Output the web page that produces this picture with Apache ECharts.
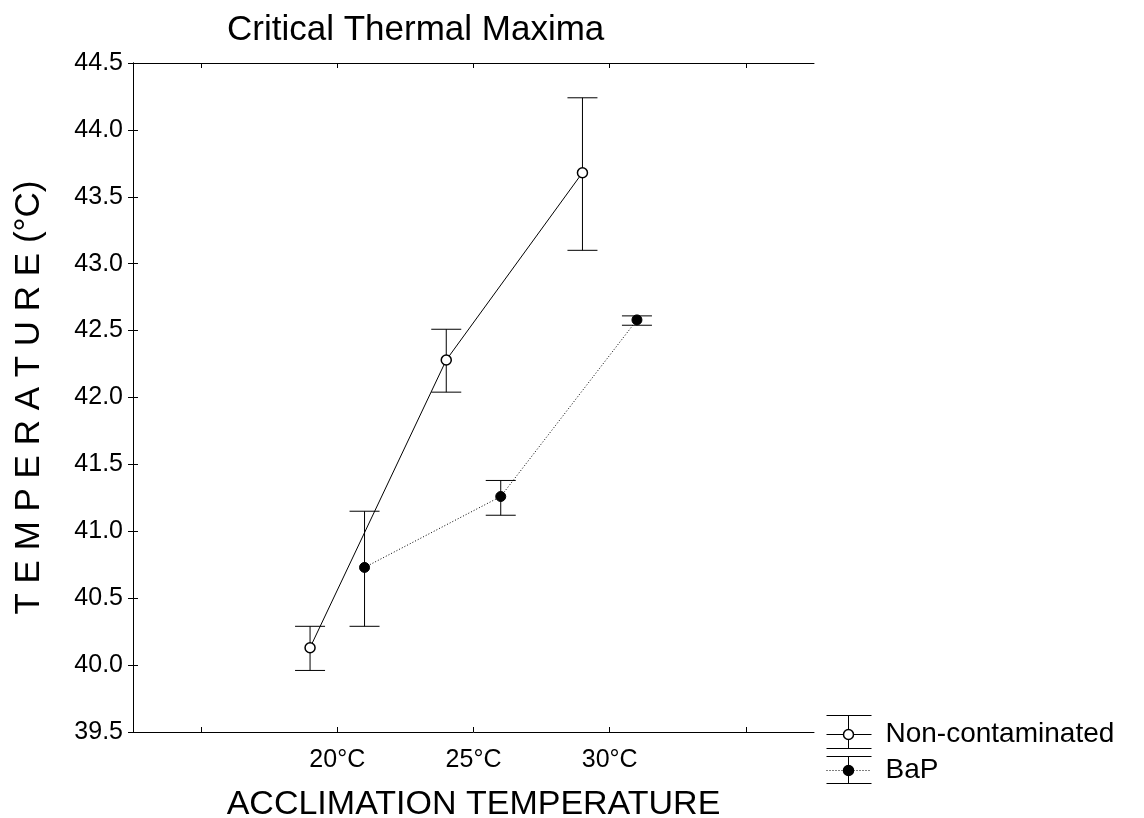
<!DOCTYPE html>
<html>
<head>
<meta charset="utf-8">
<title>Critical Thermal Maxima</title>
<script src="https://cdn.jsdelivr.net/npm/echarts@6/dist/echarts.min.js"></script>
<style>
    html, body { margin: 0; padding: 0; background: #fff; }
    #container { width: 1144px; height: 818px; }
</style>
</head>
<body>
<div id="container"></div>
<script>
// acclimation groups
const categories = ['20°C', '25°C', '30°C']
const yTicks = [39.5, 44.5, 0.5] // min, max, step

// Non-contaminated: mean and error bar ends
const ncMean = [40.13, 42.28, 43.68]
const ncLow = [39.96, 42.04, 43.10]
const ncHigh = [40.29, 42.51, 44.24]

// BaP
const bapMean = [40.73, 41.26, 42.58]
const bapLow = [40.29, 41.12, 42.54]
const bapHigh = [41.15, 41.38, 42.61]

const FONT = 'Liberation Sans, Arial, sans-serif'
const dodge = 0.2 // groups sit left / right of the tick

// x slot of each group: ticks at 0.5 .. 4.5, groups on the middle three
const slot = (i) => i + 1.5
const tickSlots = [0.5, 1.5, 2.5, 3.5, 4.5]

const pts = (means, off) => means.map((v, i) => [slot(i) + off, v])
const bars = (low, high, off) => low.map((v, i) => [slot(i) + off, v, high[i]])

// error bar drawn as stem + two caps
const errorBar = (name, data) => ({
    name: name + ' err',
    type: 'custom',
    data: data,
    z: 2,
    silent: true,
    renderItem: (params, api) => {
        let x = api.value(0)
        let lo = api.coord([x, api.value(1)])
        let hi = api.coord([x, api.value(2)])
        let w = 15
        let style = { stroke: '#000', lineWidth: 1 }
        return {
            type: 'group',
            children: [
                { type: 'line', shape: { x1: lo[0], y1: lo[1], x2: hi[0], y2: hi[1] }, style: style },
                { type: 'line', shape: { x1: lo[0] - w, y1: lo[1], x2: lo[0] + w, y2: lo[1] }, style: style },
                { type: 'line', shape: { x1: hi[0] - w, y1: hi[1], x2: hi[0] + w, y2: hi[1] }, style: style },
            ],
        }
    },
})

// legend glyph (error bar + marker), drawn with graphic
const legendItem = (top, h, mid, filled, dotted, label) => ({
    type: 'group',
    left: 824,
    top: top,
    children: [
        { type: 'line', shape: { x1: 0, y1: 0, x2: 45, y2: 0 }, style: { stroke: '#000', lineWidth: 1 } },
        { type: 'line', shape: { x1: 0, y1: h, x2: 45, y2: h }, style: { stroke: '#000', lineWidth: 1 } },
        { type: 'line', shape: { x1: 22, y1: 0, x2: 22, y2: h }, style: { stroke: '#000', lineWidth: 1 } },
        { type: 'line', shape: { x1: 0, y1: mid, x2: 45, y2: mid }, style: { stroke: '#000', lineWidth: 1, lineDash: dotted ? [1, 2] : null } },
        { type: 'circle', shape: { cx: 22, cy: mid, r: 5 }, style: { fill: filled ? '#000' : '#fff', stroke: '#000', lineWidth: 1.5 } },
        { type: 'text', x: 59, y: mid, style: { text: label, font: '28px ' + FONT, fill: '#000', verticalAlign: 'middle' } },
    ],
})

const tickStyle = { show: true, inside: true, length: 5, lineStyle: { color: '#000' } }
const lineStyle = { show: true, lineStyle: { color: '#000', width: 1 } }

let option = {
    animation: false,
    backgroundColor: '#fff',
    textStyle: { fontFamily: FONT },
    title: {
        text: 'Critical Thermal Maxima',
        left: 222,
        top: 8,
        textStyle: { fontSize: 35, fontWeight: 'normal', color: '#000', fontFamily: FONT },
    },
    grid: { left: 133, right: 330, top: 63, bottom: 86, containLabel: false, outerBoundsMode: 'none' },
    xAxis: [
        {
            type: 'value',
            min: 0,
            max: 5,
            position: 'bottom',
            axisLine: lineStyle,
            splitLine: { show: false },
            axisTick: Object.assign({ customValues: tickSlots }, tickStyle),
            axisLabel: {
                customValues: categories.map((c, i) => slot(i)),
                formatter: (v) => categories[Math.round(v - 1.5)],
                fontSize: 25,
                color: '#000',
                margin: 16,
                fontFamily: FONT,
            },
            name: 'ACCLIMATION TEMPERATURE',
            nameLocation: 'middle',
            nameGap: 56,
            nameTextStyle: { fontSize: 34, color: '#000', fontFamily: FONT },
        },
        {
            type: 'value',
            min: 0,
            max: 5,
            position: 'top',
            axisLine: lineStyle,
            splitLine: { show: false },
            axisTick: Object.assign({ customValues: tickSlots }, tickStyle),
            axisLabel: { show: false },
        },
    ],
    yAxis: [
        {
            type: 'value',
            min: yTicks[0],
            max: yTicks[1],
            interval: yTicks[2],
            position: 'left',
            axisLine: lineStyle,
            axisTick: tickStyle,
            splitLine: { show: false },
            axisLabel: {
                formatter: (v) => v.toFixed(1),
                fontSize: 25,
                color: '#000',
                margin: 10,
                fontFamily: FONT,
            },
            name: 'T E M P E R A T U R E (°C)',
            nameLocation: 'middle',
            nameRotate: 90,
            nameGap: 86,
            nameTextStyle: { fontSize: 35, color: '#000', fontFamily: FONT },
        },
        {
            type: 'value',
            min: yTicks[0],
            max: yTicks[1],
            interval: yTicks[2],
            position: 'right',
            axisLine: lineStyle,
            axisTick: tickStyle,
            splitLine: { show: false },
            axisLabel: { show: false },
        },
    ],
    series: [
        errorBar('Non-contaminated', bars(ncLow, ncHigh, -dodge)),
        errorBar('BaP', bars(bapLow, bapHigh, dodge)),
        {
            name: 'Non-contaminated',
            type: 'line',
            data: pts(ncMean, -dodge),
            z: 3,
            symbol: 'circle',
            symbolSize: 10,
            itemStyle: { color: '#fff', borderColor: '#000', borderWidth: 1.5 },
            lineStyle: { color: '#000', width: 1, type: 'solid' },
        },
        {
            name: 'BaP',
            type: 'line',
            data: pts(bapMean, dodge),
            z: 3,
            symbol: 'circle',
            symbolSize: 10,
            itemStyle: { color: '#000', borderColor: '#000', borderWidth: 1 },
            lineStyle: { color: '#000', width: 1, type: [1, 2] },
        },
    ],
    graphic: [
        legendItem(713, 33, 19, false, false, 'Non-contaminated'),
        legendItem(754, 27, 14, true, true, 'BaP'),
    ],
}

let myChart = echarts.init(document.getElementById('container'))
myChart.setOption(option)
window.addEventListener('resize', myChart.resize)
</script>
</body>
</html>
